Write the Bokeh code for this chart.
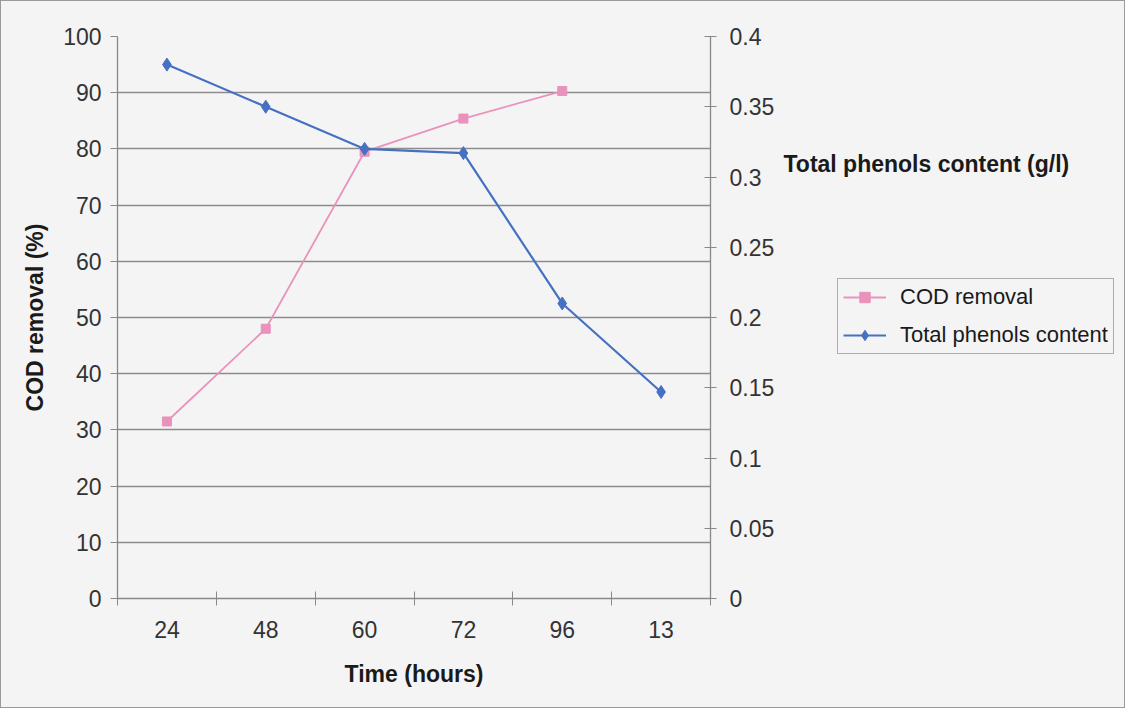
from bokeh.plotting import figure
from bokeh.layouts import row
from bokeh.models import (Range1d, LinearAxis, FixedTicker, NumeralTickFormatter,
                          Legend, LegendItem, Label)
from bokeh.embed import file_html
from bokeh.resources import INLINE

# ---- data ----
times = ["24", "48", "60", "72", "96", "13"]
cod_removal = [31.5, 48.0, 79.5, 85.4, 90.3]          # % (no value at last time)
phenols = [0.38, 0.35, 0.32, 0.317, 0.21, 0.147]      # g/l
cod_ticks = [0, 10, 20, 30, 40, 50, 60, 70, 80, 90, 100]
phen_ticks = [0, 0.05, 0.1, 0.15, 0.2, 0.25, 0.3, 0.35, 0.4]
series_names = ["COD removal", "Total phenols content"]
right_title = "Total phenols content (g/l)"

FONT = "Liberation Sans"
PINK = "#e992bb"
BLUE = "#4670c2"
BG = "#f4f4f4"
TXT = "#333333"
FS = "23px"

TOTAL_W, H = 1123, 706
W1 = 780

n = len(times)
centers = [i + 0.5 for i in range(n)]
edges = [i for i in range(n + 1)]
cod_x = centers[:len(cod_removal)]

p = figure(width=W1, height=H, output_backend="svg", toolbar_location=None,
           x_range=Range1d(0, n), y_range=Range1d(0, 100),
           min_border_left=116, min_border_top=35, min_border_bottom=109,
           min_border_right=71)
p.background_fill_color = BG
p.border_fill_color = BG
p.outline_line_color = None

p.extra_y_ranges = {"phen": Range1d(0, 0.4)}

# grid
p.xgrid.visible = False
p.ygrid.ticker = FixedTicker(ticks=cod_ticks[1:-1])
p.ygrid.grid_line_color = "#8c8c8c"
p.ygrid.grid_line_width = 1.3

# x axis
xa = p.xaxis[0]
xa.ticker = FixedTicker(ticks=centers, minor_ticks=edges)
xa.major_label_overrides = {c: t for c, t in zip(centers, times)}
xa.major_tick_line_color = None
xa.minor_tick_in = 7
xa.minor_tick_out = 7
xa.minor_tick_line_color = "#888888"
xa.axis_line_color = "#888888"
xa.axis_line_width = 1.3
xa.major_label_text_font = FONT
xa.major_label_text_font_size = FS
xa.major_label_text_color = TXT
xa.major_label_standoff = 15
xa.axis_label = "Time (hours)"
xa.axis_label_text_font = FONT
xa.axis_label_text_font_style = "bold"
xa.axis_label_text_font_size = FS
xa.axis_label_text_color = "#1a1a1a"
xa.axis_label_standoff = 20

# left axis
ya = p.yaxis[0]
ya.ticker = FixedTicker(ticks=cod_ticks)
ya.major_tick_in = 0
ya.major_tick_out = 7
ya.minor_tick_line_color = None
ya.major_tick_line_color = "#888888"
ya.axis_line_color = "#888888"
ya.axis_line_width = 1.3
ya.major_label_text_font = FONT
ya.major_label_text_font_size = FS
ya.major_label_text_color = TXT
ya.major_label_standoff = 9
ya.axis_label = "COD removal (%)"
ya.axis_label_text_font = FONT
ya.axis_label_text_font_style = "bold"
ya.axis_label_text_font_size = FS
ya.axis_label_text_color = "#1a1a1a"
ya.axis_label_standoff = 12

# right axis
ra = LinearAxis(y_range_name="phen", ticker=FixedTicker(ticks=phen_ticks),
                formatter=NumeralTickFormatter(format="0.[00]"))
ra.major_tick_in = 6
ra.major_tick_out = 6
ra.minor_tick_line_color = None
ra.major_tick_line_color = "#888888"
ra.axis_line_color = "#888888"
ra.axis_line_width = 1.3
ra.major_label_text_font = FONT
ra.major_label_text_font_size = FS
ra.major_label_text_color = TXT
ra.major_label_standoff = 13
p.add_layout(ra, "right")


def draw_series(fig, y2_name):
    l1 = fig.line(cod_x, cod_removal, line_color=PINK, line_width=1.8)
    m1 = fig.scatter(cod_x, cod_removal, marker="square", size=9,
                     fill_color=PINK, line_color=PINK)
    l2 = fig.line(centers, phenols, line_color=BLUE, line_width=2.2,
                  y_range_name=y2_name)
    m2 = fig.scatter(centers, phenols, marker="diamond", size=13,
                     fill_color=BLUE, line_color=BLUE, y_range_name=y2_name)
    return l1, m1, l2, m2


draw_series(p, "phen")

# ---- side panel: right-axis title and legend ----
# Its x range lies beyond the data, so the series drawn there stay out of view
# and serve only as legend samples.
W2 = TOTAL_W - W1
X0 = n + 10
p2 = figure(width=W2, height=H, output_backend="svg", toolbar_location=None,
            x_range=Range1d(X0, X0 + W2), y_range=Range1d(0, H),
            min_border_left=0, min_border_right=0, min_border_top=0,
            min_border_bottom=0)
p2.extra_y_ranges = {"phen": Range1d(0, 0.4)}
p2.axis.visible = False
p2.grid.visible = False
p2.background_fill_color = BG
p2.border_fill_color = BG
p2.outline_line_color = None

p2.add_layout(Label(x=X0 + 2, y=H - 160, text=right_title,
                    text_font=FONT, text_font_size=FS, text_font_style="bold",
                    text_color="#1a1a1a", text_baseline="middle"))

g1, g1m, g2, g2m = draw_series(p2, "phen")

legend = Legend(items=[LegendItem(label=series_names[0], renderers=[g1, g1m]),
                       LegendItem(label=series_names[1], renderers=[g2, g2m])],
                location=(56, 244))
legend.label_text_font = FONT
legend.label_text_font_size = "22px"
legend.label_text_color = "#1a1a1a"
legend.glyph_width = 43
legend.glyph_height = 26
legend.label_height = 26
legend.spacing = 12
legend.padding = 5
legend.margin = 0
legend.label_standoff = 14
legend.border_line_color = "#666666"
legend.border_line_width = 1
legend.background_fill_color = BG
legend.background_fill_alpha = 1
p2.add_layout(legend, "center")

lay = row(p, p2, spacing=0)
lay.styles = {"border": "1px solid #9a9a9a", "background-color": BG}

open("out.html", "w").write(file_html(lay, INLINE))
